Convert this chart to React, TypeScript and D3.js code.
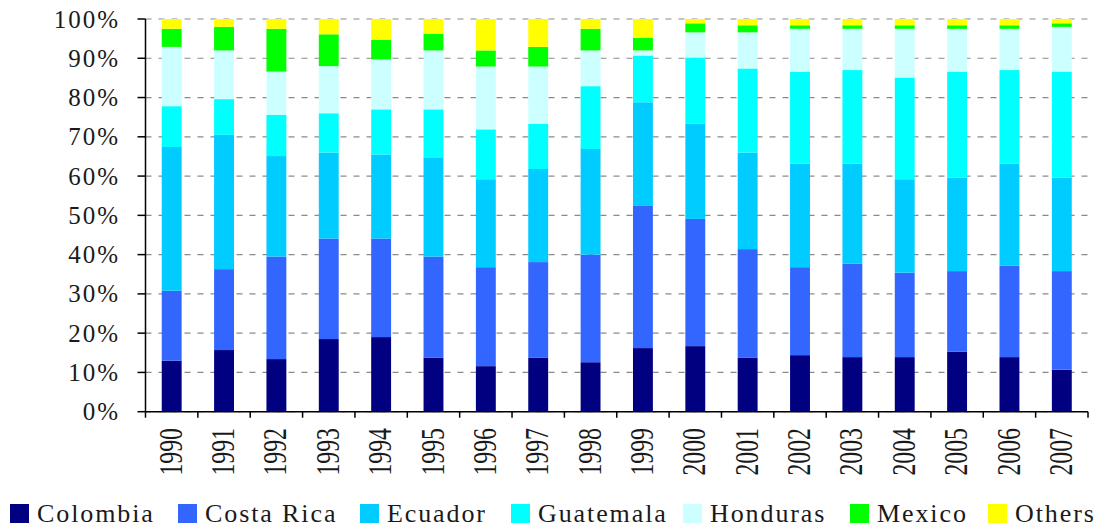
import React from "react";
import * as d3 from "d3";

const years = [
  "1990", "1991", "1992", "1993", "1994", "1995", "1996", "1997", "1998",
  "1999", "2000", "2001", "2002", "2003", "2004", "2005", "2006", "2007"
];

// share of each origin in total, %
const colombia = [13.0, 15.7, 13.4, 18.5, 19.0, 13.8, 11.6, 13.8, 12.6, 16.2, 16.7, 13.8, 14.4, 13.9, 13.9, 15.3, 13.9, 10.7];
const costaRica = [17.8, 20.6, 26.1, 25.6, 25.1, 25.7, 25.2, 24.3, 27.4, 36.2, 32.4, 27.6, 22.4, 23.8, 21.5, 20.5, 23.3, 25.1];
const ecuador = [36.6, 34.2, 25.6, 21.9, 21.4, 25.1, 22.4, 23.7, 26.9, 26.4, 24.2, 24.6, 26.4, 25.5, 23.8, 23.8, 26.0, 23.8];
const guatemala = [10.4, 9.1, 10.5, 10.0, 11.5, 12.4, 12.7, 11.5, 16.0, 11.9, 16.9, 21.4, 23.4, 23.8, 25.9, 27.0, 23.8, 27.0];
const honduras = [15.1, 12.4, 11.0, 12.0, 12.7, 15.0, 16.0, 14.6, 9.1, 1.3, 6.4, 9.2, 10.9, 10.5, 12.4, 10.9, 10.5, 11.4];
const mexico = [4.6, 6.0, 10.9, 8.1, 5.0, 4.2, 4.1, 5.0, 5.5, 3.2, 2.3, 1.8, 0.9, 0.9, 0.9, 0.9, 0.9, 0.9];
const others = [2.5, 2.0, 2.5, 3.9, 5.3, 3.8, 8.0, 7.1, 2.5, 4.8, 1.1, 1.6, 1.6, 1.6, 1.6, 1.6, 1.6, 1.1];

const seriesNames = ["Colombia", "Costa Rica", "Ecuador", "Guatemala", "Honduras", "Mexico", "Others"];
const seriesValues = [colombia, costaRica, ecuador, guatemala, honduras, mexico, others];
const seriesColors = ["#000080", "#3366FF", "#00CCFF", "#00FFFF", "#CCFFFF", "#00FF00", "#FFFF00"];

const yTicks = [0, 0.1, 0.2, 0.3, 0.4, 0.5, 0.6, 0.7, 0.8, 0.9, 1];

// legend layout (left edge of each swatch)
const legendX = [10, 178, 360, 511, 683, 850, 988];

const font = "'Liberation Serif', 'Times New Roman', serif";

export default function App() {
  const w = 1097;
  const h = 529;
  const plot = { left: 145.5, right: 1088, top: 19, bottom: 411.7 };

  const x = d3
    .scaleBand<string>()
    .domain(years)
    .range([plot.left, plot.right])
    .paddingInner(0.62)
    .paddingOuter(0.31);

  const y = d3.scaleLinear().domain([0, 1]).range([plot.bottom, plot.top]);

  const rows = years.map((yr, i) => {
    const r: any = { year: yr };
    seriesNames.forEach((s, j) => (r[s] = seriesValues[j][i]));
    return r;
  });

  const stacked = d3
    .stack<any>()
    .keys(seriesNames)
    .offset(d3.stackOffsetExpand)(rows);

  const step = x.step();
  const bw = x.bandwidth();
  const boundaries = d3.range(years.length + 1).map((i) => plot.left + i * step);

  return (
    <svg
      width={w}
      height={h}
      style={{ position: "absolute", left: 0, top: 0, background: "#fff" }}
    >
      {/* gridlines */}
      <g>
        {yTicks.map((t) => (
          <line
            key={t}
            x1={plot.left}
            x2={plot.right}
            y1={y(t)}
            y2={y(t)}
            stroke="#8a8a8a"
            strokeWidth={1.2}
            strokeDasharray="6,7"
          />
        ))}
      </g>

      {/* bars */}
      {stacked.map((layer, j) => (
        <g key={seriesNames[j]} fill={seriesColors[j]}>
          {layer.map((d, i) => (
            <rect
              key={years[i]}
              x={x(years[i])}
              width={bw}
              y={y(d[1])}
              height={y(d[0]) - y(d[1])}
            />
          ))}
        </g>
      ))}

      {/* y axis */}
      <line x1={plot.left} x2={plot.left} y1={plot.top} y2={plot.bottom} stroke="#000" strokeWidth={1.5} />
      {yTicks.map((t) => (
        <g key={t}>
          <line x1={plot.left - 8} x2={plot.left} y1={y(t)} y2={y(t)} stroke="#000" strokeWidth={1.5} />
          <text
            x={120}
            y={y(t)}
            textAnchor="end"
            dominantBaseline="central"
            fontFamily={font}
            fontSize={25}
            letterSpacing={2}
            fill="#1a1a1a"
          >
            {d3.format(".0%")(t)}
          </text>
        </g>
      ))}

      {/* x axis */}
      <line x1={plot.left} x2={plot.right} y1={plot.bottom} y2={plot.bottom} stroke="#000" strokeWidth={1.5} />
      {boundaries.map((bx, i) => (
        <line key={i} x1={bx} x2={bx} y1={plot.bottom} y2={plot.bottom + 6} stroke="#000" strokeWidth={1.5} />
      ))}
      {years.map((yr) => {
        const cx = (x(yr) as number) + bw / 2 - 1.5;
        return (
          <text
            key={yr}
            transform={`translate(${cx},428) rotate(-90) scale(0.7,1)`}
            textAnchor="end"
            dominantBaseline="central"
            fontFamily={font}
            fontSize={34}
            fill="#1a1a1a"
          >
            {yr}
          </text>
        );
      })}

      {/* legend */}
      {seriesNames.map((s, j) => (
        <g key={s} transform={`translate(${legendX[j]},504)`}>
          <rect width={19} height={19} fill={seriesColors[j]} />
          <text
            x={27}
            y={18}
            fontFamily={font}
            fontSize={26}
            letterSpacing={1.9}
            fill="#1a1a1a"
          >
            {s}
          </text>
        </g>
      ))}
    </svg>
  );
}
